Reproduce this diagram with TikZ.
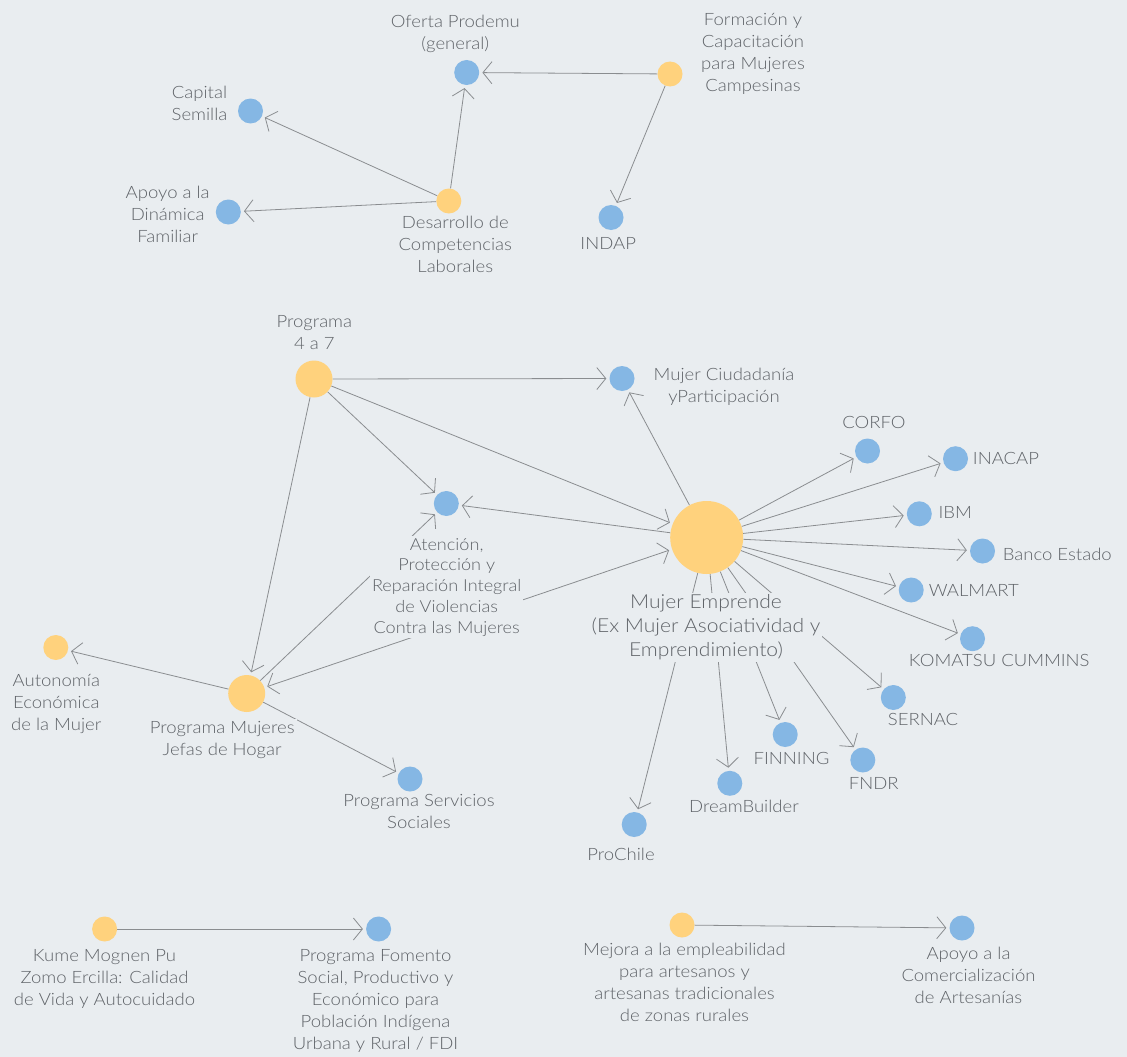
\documentclass[tikz,border=0pt]{standalone}
\usepackage{fontspec}
\setmainfont{Lato}[UprightFont=* Light, FakeStretch=1.09]
\usetikzlibrary{arrows.meta}
\definecolor{mapbg}{HTML}{E9EDF0}
\definecolor{mapyellow}{HTML}{FFD27D}
\definecolor{mapblue}{HTML}{85B7E4}
\definecolor{maptext}{HTML}{5F6368}
\definecolor{mapline}{HTML}{8A8D90}
\pgfdeclarelayer{bg}
\pgfdeclarelayer{edges}
\pgfsetlayers{bg,edges,main}
\newcommand{\mapnode}[6][]{
	\node [#4] (#2) at (#3) {};
	\node [maplabel, #1] (#2-l) at (#5) {#6};}
\tikzset{
	prog/.style={circle, fill=mapyellow, minimum size=25pt, inner sep=0pt},
	progmid/.style={prog, minimum size=37pt},
	progbig/.style={prog, minimum size=73pt},
	inst/.style={circle, fill=mapblue, minimum size=25pt, inner sep=0pt},
	maplabel/.style={anchor=north, align=center, text=maptext, fill=mapbg, inner sep=2pt,
		font=\fontsize{17}{22}\selectfont},
	smalllabel/.style={font=\fontsize{16.6}{20.8}\selectfont},
	biglabel/.style={font=\fontsize{19.3}{23.8}\selectfont},
	link/.style={draw=mapline, line width=0.8pt, ->, shorten >=3pt}
}

\begin{document}
\begin{tikzpicture}[x=1pt, y=-1pt, >={Straight Barb[length=9pt,width=22pt]}]
	\begin{pgfonlayer}{bg}
		\fill [mapbg] (0,0) rectangle (1127,1057);
	\end{pgfonlayer}
	\useasboundingbox (0,0) rectangle (1127,1057);
	% top group
	\mapnode{oferta}{466.7,72.5}{inst}{455.3,12.5}{Oferta Prodemu\\(general)}
	\mapnode{formacion}{670,74}{prog}{753,11}{Formación y\\Capacitación\\para Mujeres\\Campesinas}
	\mapnode{capital}{250.5,111}{inst}{199.5,84}{Capital\\Semilla}
	\mapnode{desarrollo}{448.8,201}{prog}{455.3,214}{Desarrollo de\\Competencias\\Laborales}
	\mapnode{dinamica}{228.3,212}{inst}{167.7,184}{Apoyo a la\\Dinámica\\Familiar}
	\mapnode{indap}{611,217.5}{inst}{608.2,235}{INDAP}
	% middle group
	\mapnode{cuatro}{314,379}{progmid}{314.3,313.5}{Programa\\4 a 7}
	\mapnode{ciudadania}{622,378.5}{inst}{724,366}{Mujer Ciudadanía\\yParticipación}
	\mapnode[smalllabel]{atencion}{446.3,503.5}{inst}{446.7,536}{Atención,\\Protección y\\Reparación Integral\\de Violencias\\Contra las Mujeres}
	\mapnode[biglabel]{emprende}{706.7,537.5}{progbig}{706,592.5}{Mujer Emprende\\(Ex Mujer Asociatividad y\\Emprendimiento)}
	\mapnode{corfo}{867.5,451}{inst}{874,414}{CORFO}
	\mapnode{inacap}{955.5,458.7}{inst}{1006,450}{INACAP}
	\mapnode{ibm}{919.3,513.8}{inst}{955.3,504}{IBM}
	\mapnode{banco}{982.5,551}{inst}{1057.3,545.5}{Banco Estado}
	\mapnode{walmart}{911.2,590}{inst}{973.8,582.5}{WALMART}
	\mapnode{komatsu}{972.5,638.7}{inst}{999.3,652.5}{KOMATSU CUMMINS}
	\mapnode{sernac}{893.3,697.5}{inst}{923,711.5}{SERNAC}
	\mapnode{fndr}{862.8,760}{inst}{873.7,775.5}{FNDR}
	\mapnode{finning}{785.2,734.5}{inst}{791.5,750}{FINNING}
	\mapnode{dream}{729.8,783.3}{inst}{744,797.5}{DreamBuilder}
	\mapnode{prochile}{634.2,824.5}{inst}{621,846}{ProChile}
	\mapnode{jefas}{246.7,693.5}{progmid}{222.2,719}{Programa Mujeres\\Jefas de Hogar}
	\mapnode{autonomia}{55.8,647.5}{prog}{56.3,672}{Autonomía\\Económica\\de la Mujer}
	\mapnode{servicios}{410,779}{inst}{419,792.5}{Programa Servicios\\Sociales}
	% bottom group
	\mapnode{kume}{104.6,929}{prog}{104.5,947.5}{Kume Mognen Pu\\Zomo Ercilla: Calidad\\de Vida y Autocuidado}
	\mapnode{fomento}{378.6,929}{inst}{375.5,947.5}{Programa Fomento\\Social, Productivo y\\Económico para\\Población Indígena\\Urbana y Rural / FDI}
	\mapnode{mejora}{682,925}{prog}{684.5,940.5}{Mejora a la empleabilidad\\para artesanos y\\artesanas tradicionales\\de zonas rurales}
	\mapnode{comercial}{962,928}{inst}{968.5,944.5}{Apoyo a la\\Comercialización\\de Artesanías}
	\begin{pgfonlayer}{edges}
		\draw [link] (desarrollo) -- (oferta);
		\draw [link] (desarrollo) -- (capital);
		\draw [link] (desarrollo) -- (dinamica);
		\draw [link] (formacion) -- (oferta);
		\draw [link] (formacion) -- (indap);
		\draw [link] (cuatro) -- (ciudadania);
		\draw [link] (cuatro) -- (atencion);
		\draw [link] (cuatro) -- (emprende);
		\draw [link] (cuatro) -- (jefas);
		\foreach \t in {ciudadania,atencion,corfo,inacap,ibm,banco,walmart,komatsu,sernac,fndr,finning,dream,prochile}
			\draw [link] (emprende) -- (\t);
		\draw [link] (jefas) -- (autonomia);
		\draw [link] (jefas) -- (servicios);
		\draw [link] (jefas) -- (atencion);
		\draw [link, <->, shorten <=3pt] (jefas) -- (emprende);
		\draw [link] (kume) -- (fomento);
		\draw [link] (mejora) -- (comercial);
	\end{pgfonlayer}
\end{tikzpicture}
\end{document}
